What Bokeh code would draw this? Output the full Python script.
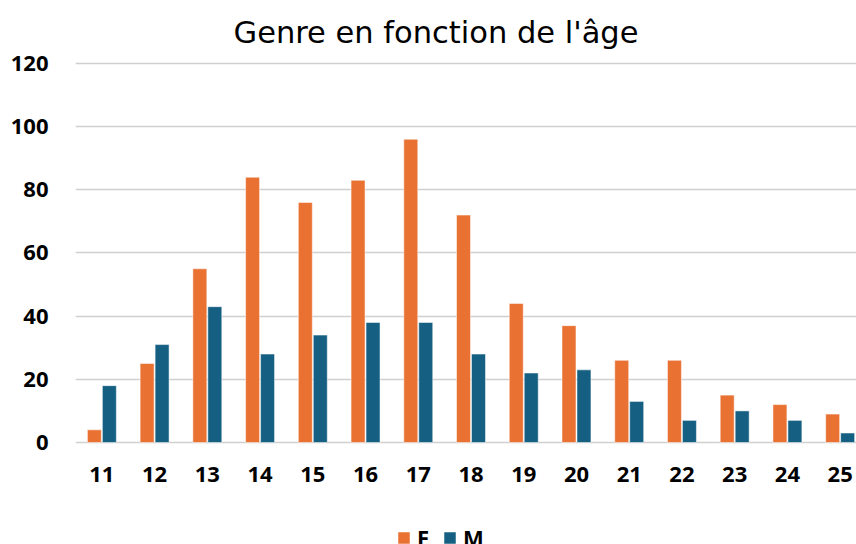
from bokeh.plotting import figure
from bokeh.models import ColumnDataSource, FixedTicker, Range1d, Legend, LegendItem
from bokeh.transform import dodge
from bokeh.embed import file_html
from bokeh.resources import INLINE

ages = [11, 12, 13, 14, 15, 16, 17, 18, 19, 20, 21, 22, 23, 24, 25]
female = [4, 25, 55, 84, 76, 83, 96, 72, 44, 37, 26, 26, 15, 12, 9]
male = [18, 31, 43, 28, 34, 38, 38, 28, 22, 23, 13, 7, 10, 7, 3]
y_ticks = [0, 20, 40, 60, 80, 100, 120]
title_text = "Genre en fonction de l'âge"
series_names = ["F", "M"]
colors = ["#E97132", "#156082"]

src = ColumnDataSource(dict(age=ages, F=female, M=male))

# frame spans the whole lower area; value range 0..120 occupies the upper part,
# the x-axis is pinned at y=0 and the legend sits at the bottom of the frame
p = figure(width=856, height=544, output_backend="svg", toolbar_location=None,
           x_range=Range1d(10.5, 25.31), y_range=Range1d(-32.3, 120.63),
           min_border_left=75, min_border_right=0, min_border_top=61, min_border_bottom=0)

p.title.text = title_text
p.title.text_font = "DejaVu Sans"
p.title.text_font_size = "30.5px"
p.title.text_font_style = "normal"
p.title.text_color = "#000000"
p.title.align = "left"
p.title.offset = 158
p.title.standoff = 24

rf = p.vbar(x=dodge("age", -0.142, range=p.x_range), top="F", width=0.265, source=src,
            fill_color=colors[0], line_color="white", line_alpha=0.5, line_width=1)
rm = p.vbar(x=dodge("age", 0.142, range=p.x_range), top="M", width=0.265, source=src,
            fill_color=colors[1], line_color="white", line_alpha=0.5, line_width=1)

p.xaxis.ticker = FixedTicker(ticks=ages)
p.xaxis.fixed_location = 0
p.yaxis.ticker = FixedTicker(ticks=y_ticks)
for ax in (p.xaxis[0], p.yaxis[0]):
    ax.axis_line_color = None
    ax.major_tick_line_color = None
    ax.minor_tick_line_color = None
    ax.major_label_text_font = "Open Sans"
    ax.major_label_text_font_style = "bold"
    ax.major_label_text_font_size = "22px"
    ax.major_label_text_color = "#000000"
p.yaxis.major_label_standoff = 21
p.xaxis.major_label_standoff = 19

p.xgrid.grid_line_color = None
p.ygrid.grid_line_color = "#D0D0D0"
p.ygrid.grid_line_width = 1.5
p.outline_line_color = None

legend = Legend(items=[LegendItem(label=series_names[0], renderers=[rf]),
                       LegendItem(label=series_names[1], renderers=[rm])],
                orientation="horizontal", location=(321, -8),
                glyph_width=15, glyph_height=15, label_height=15, label_width=11,
                label_standoff=6, spacing=13, padding=0, margin=0,
                border_line_color=None, background_fill_alpha=0,
                label_text_font="Open Sans", label_text_font_style="bold",
                label_text_font_size="22px", label_text_color="#000000")
p.add_layout(legend, "center")

open("out.html", "w").write(file_html(p, INLINE))
